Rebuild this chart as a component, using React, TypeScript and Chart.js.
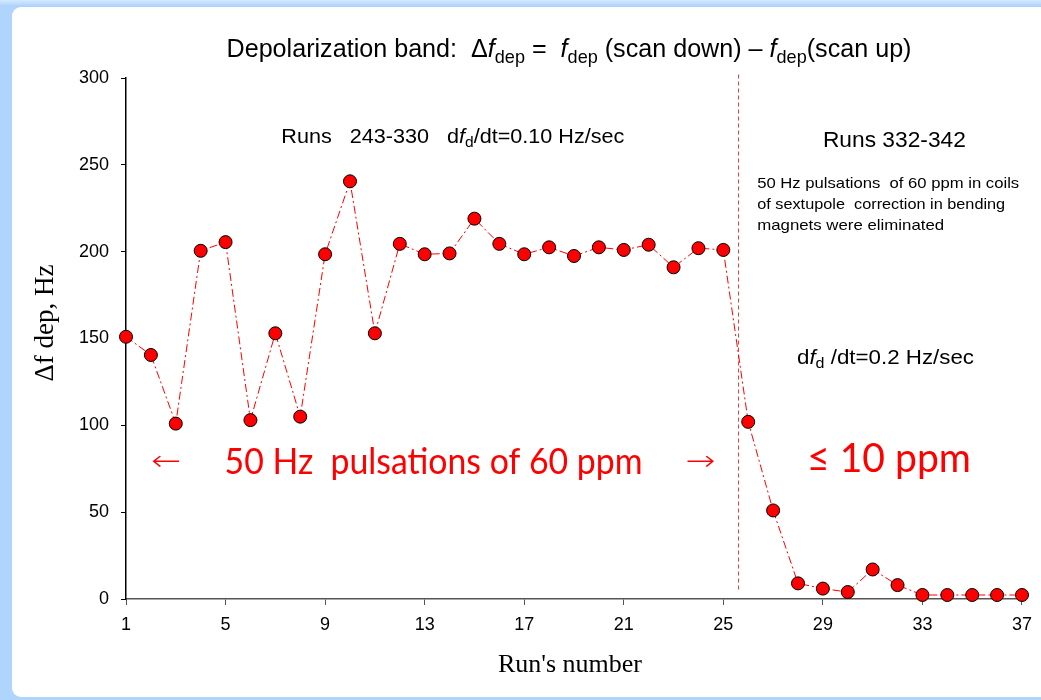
import { useEffect, useRef } from "react";
import { Chart, registerables } from "chart.js";

Chart.register(...registerables);

// Run index along the x axis and the measured depolarization band width (Hz)
const runs = [
  1, 2, 3, 4, 5, 6, 7, 8, 9, 10, 11, 12, 13, 14, 15, 16, 17, 18, 19, 20, 21,
  22, 23, 24, 25, 26, 27, 28, 29, 30, 31, 32, 33, 34, 35, 36, 37,
];
const deltaFdep = [
  151, 140.5, 101, 200.5, 205.5, 103, 153, 105, 198.5, 240.5, 153, 204.5,
  198.5, 199, 219, 204.5, 198.5, 202.5, 197.5, 202.5, 201, 204, 191, 202, 201,
  102, 51, 9, 6, 4, 17, 8, 2.3, 2.3, 2.3, 2.3, 2.3,
];
const xTickValues = [1, 5, 9, 13, 17, 21, 25, 29, 33, 37];
const yTickValues = [0, 50, 100, 150, 200, 250, 300];

// Boundary between the two run series (x in run units, y span in Hz)
const dividerRun = 25.6;
const dividerSpan = [5, 302];

const SANS = '"Liberation Sans", Arial, sans-serif';
const SERIF = '"Liberation Serif", "Times New Roman", serif';
const RED_FONT = 'Lato, "Open Sans", sans-serif';
const ARROW_FONT = '200 28px "DejaVu Sans"';

type Seg = { t: string; it?: boolean; sub?: boolean };

function segFont(seg: Seg, size: number, family: string) {
  const s = seg.sub ? size * 0.72 : size;
  return `${seg.it ? "italic " : ""}${s}px ${family}`;
}

// Draws a run of text pieces with italic / subscript parts; an optional
// target width stretches the whole run horizontally
function drawRich(
  ctx: CanvasRenderingContext2D,
  segs: Seg[],
  x: number,
  y: number,
  size: number,
  family: string,
  align: "left" | "center" = "left",
  width?: number,
) {
  let total = 0;
  const widths = segs.map((s) => {
    ctx.font = segFont(s, size, family);
    const w = ctx.measureText(s.t).width;
    total += w;
    return w;
  });
  const k = width ? width / total : 1;
  const start = align === "center" ? x - (total * k) / 2 : x;
  ctx.save();
  ctx.translate(start, y);
  ctx.scale(k, 1);
  ctx.textAlign = "left";
  ctx.textBaseline = "alphabetic";
  let cx = 0;
  segs.forEach((s, i) => {
    ctx.font = segFont(s, size, family);
    ctx.fillText(s.t, cx, s.sub ? size * 0.22 : 0);
    cx += widths[i];
  });
  ctx.restore();
}

// Draws a single line squeezed or stretched to a given width
function drawFitted(
  ctx: CanvasRenderingContext2D,
  text: string,
  x: number,
  y: number,
  font: string,
  width: number,
) {
  ctx.font = font;
  const w = ctx.measureText(text).width;
  ctx.save();
  ctx.translate(x, y);
  ctx.scale(width / w, 1);
  ctx.textAlign = "left";
  ctx.textBaseline = "alphabetic";
  ctx.fillText(text, 0, 0);
  ctx.restore();
}

const framePlugin = {
  id: "frame",
  beforeDraw(chart: any) {
    const { ctx, width, height } = chart;
    ctx.save();
    ctx.fillStyle = "#b0d5fc";
    ctx.fillRect(0, 0, width, height);
    const g = ctx.createLinearGradient(0, 0, 0, 7);
    g.addColorStop(0, "#d4e9fe");
    g.addColorStop(1, "#a9d0fb");
    ctx.fillStyle = g;
    ctx.fillRect(0, 0, width, 7);
    ctx.fillStyle = "#ffffff";
    ctx.beginPath();
    ctx.roundRect(12, 7, width + 20, height - 10, 9);
    ctx.fill();
    ctx.restore();
  },
};

const dividerPlugin = {
  id: "divider",
  beforeDatasetsDraw(chart: any) {
    const { ctx, scales } = chart;
    const x = Math.round(scales.x.getPixelForValue(dividerRun)) + 0.5;
    ctx.save();
    ctx.strokeStyle = "#f03c3c";
    ctx.lineWidth = 1;
    ctx.setLineDash([4, 3]);
    ctx.beginPath();
    ctx.moveTo(x, scales.y.getPixelForValue(dividerSpan[1]));
    ctx.lineTo(x, scales.y.getPixelForValue(dividerSpan[0]));
    ctx.stroke();
    ctx.restore();
  },
};

const textPlugin = {
  id: "texts",
  afterDraw(chart: any) {
    const { ctx, scales, chartArea } = chart;
    const X = (v: number) => scales.x.getPixelForValue(v);
    const Y = (v: number) => scales.y.getPixelForValue(v);
    ctx.save();
    ctx.fillStyle = "#000";

    // Title
    drawRich(
      ctx,
      [
        { t: "Depolarization band:  Δ" },
        { t: "f", it: true },
        { t: "dep", sub: true },
        { t: " =  " },
        { t: "f", it: true },
        { t: "dep", sub: true },
        { t: " (scan down) – " },
        { t: "f", it: true },
        { t: "dep", sub: true },
        { t: "(scan up)" },
      ],
      (chartArea.left + chartArea.right) / 2 - 5,
      57,
      26,
      SANS,
      "center",
      685,
    );

    // Axis titles
    ctx.font = `26px ${SERIF}`;
    ctx.textAlign = "center";
    ctx.textBaseline = "alphabetic";
    ctx.fillText("Run's number", (chartArea.left + chartArea.right) / 2 - 4, 672);
    ctx.save();
    ctx.translate(53, 323);
    ctx.rotate(-Math.PI / 2);
    ctx.font = `27px ${SERIF}`;
    ctx.fillText("Δf dep, Hz", 0, 0);
    ctx.restore();

    // Notes for the first run series
    drawRich(
      ctx,
      [
        { t: "Runs   243-330   d" },
        { t: "f", it: true },
        { t: "d", sub: true },
        { t: "/dt=0.10 Hz/sec" },
      ],
      X(7.24),
      Y(262.6),
      20,
      SANS,
      "left",
      343,
    );

    // Notes for the second run series
    drawFitted(ctx, "Runs 332-342", X(29.0), Y(260.3), `22px ${SANS}`, 143);
    const noteFont = `15px ${SANS}`;
    drawFitted(ctx, "50 Hz pulsations  of 60 ppm in coils", X(26.36), Y(236.7), noteFont, 262);
    drawFitted(ctx, "of sextupole  correction in bending", X(26.36), Y(224.6), noteFont, 248);
    drawFitted(ctx, "magnets were eliminated", X(26.36), Y(212.5), noteFont, 187);
    drawRich(
      ctx,
      [{ t: "d" }, { t: "f", it: true }, { t: "d", sub: true }, { t: " /dt=0.2 Hz/sec" }],
      X(27.96),
      Y(135.3),
      20,
      SANS,
      "left",
      177,
    );

    // Pulsation levels
    ctx.fillStyle = "#ff0000";
    drawFitted(ctx, "←", X(2.0), Y(74), ARROW_FONT, 30);
    drawFitted(ctx, "50 Hz  pulsations of 60 ppm", X(4.96), Y(72), `36px ${RED_FONT}`, 418);
    drawFitted(ctx, "→", X(23.48), Y(74), ARROW_FONT, 30);
    drawFitted(ctx, "≤ 10 ppm", X(28.36), Y(73), `40px ${RED_FONT}`, 164);
    ctx.restore();
  },
};

export default function App() {
  const canvasRef = useRef<HTMLCanvasElement | null>(null);

  useEffect(() => {
    const canvas = canvasRef.current;
    if (!canvas) return;
    const chart = new Chart(canvas, {
      type: "line",
      data: {
        labels: runs,
        datasets: [
          {
            data: runs.map((r, i) => ({ x: r, y: deltaFdep[i] })),
            borderColor: "#ff0000",
            borderWidth: 1,
            borderDash: [8, 3, 2, 3],
            tension: 0,
            fill: false,
            pointRadius: 6.5,
            pointHoverRadius: 6.5,
            pointBackgroundColor: "#ff0000",
            pointBorderColor: "#000000",
            pointBorderWidth: 1,
            clip: false,
          } as any,
        ],
      },
      options: {
        responsive: false,
        animation: false,
        events: [],
        layout: { padding: { top: 78, right: 15, left: 0, bottom: 0 } },
        plugins: {
          legend: { display: false },
          tooltip: { enabled: false },
          title: { display: false },
        },
        scales: {
          x: {
            type: "linear",
            min: 1,
            max: 37,
            afterBuildTicks: (s: any) => {
              s.ticks = xTickValues.map((v) => ({ value: v }));
            },
            afterFit: (s: any) => {
              s.height = 101;
            },
            grid: { drawOnChartArea: false, tickLength: 6, color: "#555", lineWidth: 1 },
            border: { color: "#555", width: 1.5 },
            ticks: {
              padding: 9,
              color: "#000",
              autoSkip: false,
              maxRotation: 0,
              font: { family: SANS, size: 18 },
            },
          },
          y: {
            type: "linear",
            min: 0,
            max: 300,
            afterBuildTicks: (s: any) => {
              s.ticks = yTickValues.map((v) => ({ value: v }));
            },
            afterFit: (s: any) => {
              s.width = 126;
            },
            grid: { drawOnChartArea: false, tickLength: 5, color: "#000", lineWidth: 1 },
            border: { color: "#000", width: 1.5 },
            ticks: {
              padding: 12,
              color: "#000",
              font: { family: SANS, size: 18 },
            },
          },
        },
      },
      plugins: [framePlugin, dividerPlugin, textPlugin],
    });
    return () => chart.destroy();
  }, []);

  return (
    <div style={{ position: "fixed", left: 0, top: 0, width: 1041, height: 700 }}>
      <canvas ref={canvasRef} width={1041} height={700} style={{ display: "block" }} />
    </div>
  );
}
